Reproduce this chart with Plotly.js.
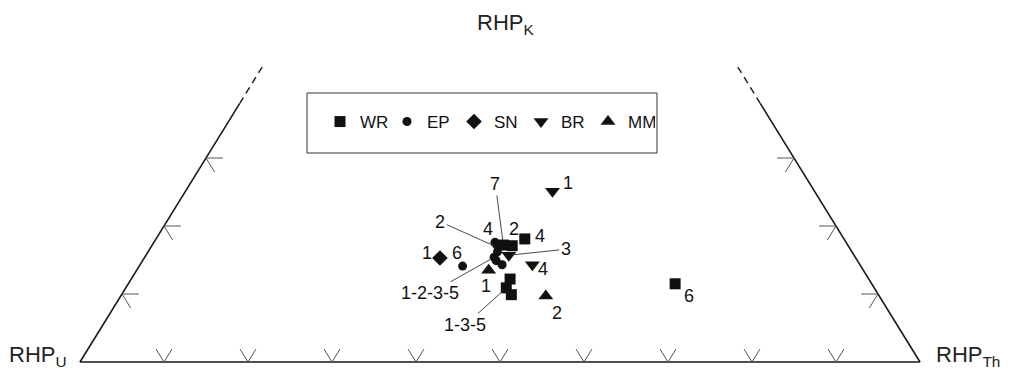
<!DOCTYPE html>
<html><head><meta charset="utf-8">
<script src="https://cdn.plot.ly/plotly-3.0.1.min.js"></script>
<style>html,body{margin:0;padding:0;background:#fff;} #chart{width:1015px;height:377px;}</style>
</head><body><div id="chart"></div>
<script>
// ---------- DATA (ternary compositions, %) ----------
const seriesNames = ['WR', 'EP', 'SN', 'BR', 'MM'];

const wrSamples = ['1', '3', '5', '2', '4', '6', '7'];
const wrK  = [12.2, 10.9, 9.9, 17.1, 18.1, 11.5, 17.2];
const wrTh = [45.1, 45.3, 46.4, 42.9, 43.9, 65.1, 41.8];
const wrU  = [42.7, 43.8, 43.7, 40.0, 38.0, 23.4, 41.0];

const epSamples = ['1', '2', '3', '5', '4', '6'];
const epK  = [16.2, 15.4, 14.9, 14.3, 17.6, 14.1];
const epTh = [41.6, 41.6, 42.1, 43.1, 40.6, 38.5];
const epU  = [42.2, 43.0, 43.0, 42.6, 41.8, 47.4];

const snSamples = ['1'];
const snK  = [15.3];
const snTh = [35.2];
const snU  = [49.5];

const brSamples = ['1', '2', '3', '4'];
const brK  = [25.1, 16.8, 15.7, 14.3];
const brTh = [43.7, 41.4, 43.2, 46.7];
const brU  = [31.2, 41.8, 41.1, 39.0];

const mmSamples = ['1', '2'];
const mmK  = [13.5, 9.7];
const mmTh = [41.9, 50.6];
const mmU  = [44.6, 39.7];

// point labels: [text, series, index of point]
const pointLabels = [
  ['1', 'BR', 0], ['4', 'WR', 4], ['2', 'WR', 3], ['4', 'EP', 4],
  ['7', 'WR', 6], ['2', 'BR', 1], ['3', 'BR', 2], ['1-2-3-5', 'EP', 1],
  ['1-3-5', 'WR', 1], ['1', 'SN', 0], ['6', 'EP', 5], ['1', 'MM', 0],
  ['4', 'BR', 3], ['2', 'MM', 1], ['6', 'WR', 5]
];

// edge tick values (%)
const baseTicks  = [10, 20, 30, 40, 50, 60, 70, 80, 90];
const leftTicks  = [10, 20, 30];
const rightTicks = [10, 20, 30];
const solidTopK = 38, dashTopK = 43.5;

// ---------- LAYOUT / STYLE ----------
// label placement (pixel offsets from point) and whether a leader line is drawn
const labelPlacement = [
  [15, -8, false], [15, -3, false], [2, -17, false], [-7, -13, false],
  [-8, -61, true], [-58, -26, true], [57, -6, true], [-64, 36, true],
  [-41, 37, true], [-13, -5, false], [-6, -13, false], [-3, 16, false],
  [11, 4, false], [11, 17, false], [14, 12, false]
];
const symbols = {WR: 'square', EP: 'circle', SN: 'diamond', BR: 'triangle-down', MM: 'triangle-up'};
const sizes   = {WR: 11, EP: 9, SN: 12, BR: 13, MM: 13};
const FONT = 'Liberation Sans, Arial, Helvetica, sans-serif';
const INK = '#111';

function toXY(K, Th, U) {
  const s = K + Th + U;
  return [(Th + K / 2) / s, K / s];
}
const seriesData = {
  WR: [wrK, wrTh, wrU], EP: [epK, epTh, epU], SN: [snK, snTh, snU],
  BR: [brK, brTh, brU], MM: [mmK, mmTh, mmU]
};
const samplesOf = {WR: wrSamples, EP: epSamples, SN: snSamples, BR: brSamples, MM: mmSamples};
function seriesXY(name) {
  const [K, Th, U] = seriesData[name];
  const xs = [], ys = [];
  K.forEach((k, i) => { const p = toXY(k, Th[i], U[i]); xs.push(p[0]); ys.push(p[1]); });
  return [xs, ys];
}

const traces = [];
// frame (solid)
const pL0 = toXY(0, 0, 100), pR0 = toXY(0, 100, 0);
const pLs = toXY(solidTopK, 0, 100 - solidTopK), pRs = toXY(solidTopK, 100 - solidTopK, 0);
const pLd = toXY(dashTopK, 0, 100 - dashTopK), pRd = toXY(dashTopK, 100 - dashTopK, 0);
traces.push({
  x: [pLs[0], pL0[0], pR0[0], pRs[0]], y: [pLs[1], pL0[1], pR0[1], pRs[1]],
  mode: 'lines', line: {color: '#1a1a1a', width: 1.6}, showlegend: false, hoverinfo: 'skip'
});
traces.push({
  x: [pLs[0], pLd[0], null, pRs[0], pRd[0]], y: [pLs[1], pLd[1], null, pRs[1], pRd[1]],
  mode: 'lines', line: {color: '#1a1a1a', width: 1.4, dash: '7px,5px'}, showlegend: false, hoverinfo: 'skip'
});
// ticks
const tx = [], ty = [];
const armK = 0.019, armH = 0.02, armD = 0.0206;
baseTicks.forEach(t => {
  const p = toXY(0, t, 100 - t);
  tx.push(p[0] - armK / 2, p[0], p[0] + armK / 2, null);
  ty.push(p[1] + armK, p[1], p[1] + armK, null);
});
leftTicks.forEach(t => {
  const p = toXY(t, 0, 100 - t);
  tx.push(p[0] + armH, p[0], p[0] + armD / 2, null);
  ty.push(p[1], p[1], p[1] - armD, null);
});
rightTicks.forEach(t => {
  const p = toXY(t, 100 - t, 0);
  tx.push(p[0] - armH, p[0], p[0] - armD / 2, null);
  ty.push(p[1], p[1], p[1] - armD, null);
});
traces.push({x: tx, y: ty, mode: 'lines', line: {color: '#555', width: 1}, showlegend: false, hoverinfo: 'skip'});

// series
seriesNames.forEach(name => {
  const [xs, ys] = seriesXY(name);
  traces.push({
    x: xs, y: ys, name: name, type: 'scatter', mode: 'markers',
    text: samplesOf[name],
    marker: {symbol: symbols[name], size: sizes[name], color: INK, line: {width: 0}}
  });
});

// annotations
const annotations = pointLabels.map((lab, i) => {
  const [txt, ser, idx] = lab;
  const [xs, ys] = seriesXY(ser);
  const [dx, dy, line] = labelPlacement[i];
  const a = {x: xs[idx], y: ys[idx], xref: 'x', yref: 'y', text: txt,
    font: {family: FONT, size: 18, color: INK}};
  if (line) {
    Object.assign(a, {showarrow: true, ax: dx, ay: dy, arrowhead: 0, arrowwidth: 0.9,
      arrowcolor: '#333', standoff: 4});
  } else {
    Object.assign(a, {showarrow: false, xshift: dx, yshift: -dy});
  }
  return a;
});
const W = 1015, H = 377;
const axisLabels = [
  {text: 'RHP<sub>K</sub>', px: 505, py: 24, anchor: 'center'},
  {text: 'RHP<sub>U</sub>', px: 7, py: 356, anchor: 'left'},
  {text: 'RHP<sub>Th</sub>', px: 934, py: 356, anchor: 'left'}
];
axisLabels.forEach(l => annotations.push({
  xref: 'paper', yref: 'paper', x: l.px / W, y: 1 - l.py / H, xanchor: l.anchor, yanchor: 'middle',
  text: l.text, showarrow: false, font: {family: FONT, size: 22, color: '#222'}
}));

const layout = {
  width: W, height: H,
  margin: {l: 0, r: 0, t: 0, b: 0},
  paper_bgcolor: '#fff', plot_bgcolor: '#fff',
  xaxis: {range: [-80 / 840, 935 / 840], visible: false, fixedrange: true},
  yaxis: {range: [-15 / 680, 362 / 680], visible: false, fixedrange: true},
  showlegend: true,
  legend: {orientation: 'h', x: 320 / W, xanchor: 'left', y: 1 - 104 / H, yanchor: 'top',
    entrywidth: 22, entrywidthmode: 'pixels',
    bgcolor: 'rgba(0,0,0,0)', borderwidth: 0, font: {family: FONT, size: 17, color: INK}},
  shapes: [{type: 'rect', xref: 'paper', yref: 'paper',
    x0: 307 / W, x1: 657 / W, y0: 1 - 153 / H, y1: 1 - 93 / H,
    line: {color: '#333', width: 1}}],
  annotations: annotations,
  hovermode: false
};
Plotly.newPlot('chart', traces, layout, {displayModeBar: false, staticPlot: true});
</script></body></html>
